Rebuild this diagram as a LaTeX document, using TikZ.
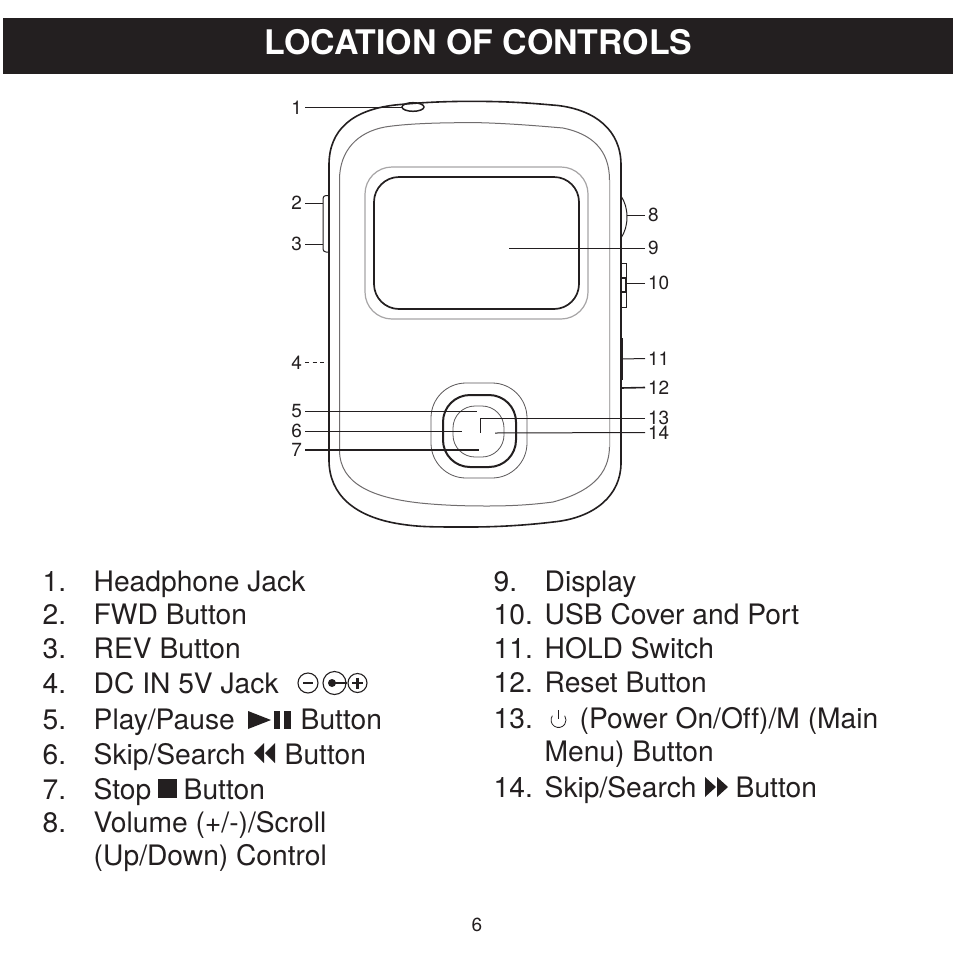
\documentclass[tikz,border=0pt]{standalone}
\usepackage{fontspec}
\setmainfont{TeX Gyre Heros}[Ligatures=NoCommon]
\definecolor{ink}{HTML}{231F20}
\tikzset{
  body/.style={draw=ink,line width=1.6pt,line join=round},
  inner/.style={draw=ink!65,line width=1pt},
  screenout/.style={draw=ink!40,line width=1.2pt},
  screenin/.style={draw=ink,line width=1.7pt},
  thin/.style={draw=ink!75,line width=.8pt},
  lead/.style={draw=ink,line width=1pt},
  leadb/.style={draw=ink,line width=2pt},
  lbl/.style={inner sep=0pt,outer sep=3pt,text=ink,font=\fontsize{19}{19}\selectfont},
  item/.style={anchor=base west,inner sep=0pt,xshift=-.5pt,yshift=.4pt,text=ink,font=\fontsize{28.2}{28.2}\selectfont},
  sym/.style={fill=ink,draw=none},
}
\begin{document}
\begin{tikzpicture}[x=1pt,y=-1pt]
\useasboundingbox[fill=white] (0,0) rectangle (954,954);
\fill[ink] (3,18) rectangle (953,74);
\node[anchor=base,inner sep=0pt,text=white,font=\fontsize{33.9}{33.9}\selectfont\bfseries] (title) at (478.5,54) {LOCATION OF CONTROLS};
% side controls (behind body)
\draw[lead,rounded corners=3pt] (329,195.5) -- (323,195.5) -- (323,252) -- (329,252);
\draw[lead] (621,196) .. controls (625,202) and (627,209) .. (627,217) .. controls (627,225) and (625,232) .. (621,238);
\draw[lead] (621,263) -- (626.5,263) -- (626.5,307) -- (621,307);
\draw[draw=ink,line width=1.7pt] (621,278) -- (626,278) -- (626,292) -- (621,292);
\draw[draw=ink,line width=2pt] (622,338) -- (622,380);
% body
\draw[body] (329,165) .. controls (329,130) and (352,110) .. (395,105)
  .. controls (430,101.5) and (460,101) .. (490,101.5)
  .. controls (520,102) and (540,104) .. (558,105.5)
  .. controls (595,110) and (621,130) .. (621,165)
  -- (621,463) .. controls (621,495) and (595,518) .. (553,522)
  .. controls (520,526) and (490,527) .. (470,527)
  .. controls (430,527) and (420,527) .. (400,524)
  .. controls (355,517) and (329,495) .. (329,460) -- cycle;
\draw[inner] (339.5,180) .. controls (339.5,150) and (358,132) .. (385,127)
  .. controls (410,123) and (450,122.5) .. (480,122.7)
  .. controls (510,123.5) and (540,126) .. (563,128)
  .. controls (592,134) and (609.5,150) .. (609.5,180)
  -- (609.5,447) .. controls (609,475) and (590,492) .. (553,502)
  .. controls (530,505) and (510,506) .. (487,506)
  .. controls (460,506) and (440,505) .. (420,503)
  .. controls (375,498) and (339.5,485) .. (339.5,450) -- cycle;
\draw[draw=ink!35,line width=1.3pt] (609.5,180) -- (609.5,447);
% screen
\draw[screenout,rounded corners=27pt] (365,167) rectangle (588,319);
\draw[screenin,rounded corners=25pt] (374,177) rectangle (579,309);
% d-pad
\draw[thin,rounded corners=35pt] (431,383) rectangle (527,478);
\draw[draw=ink,line width=2pt,rounded corners=27pt] (443,395) rectangle (516,467);
\draw[thin,rounded corners=22pt] (453,406) rectangle (504,457);
% jack
\draw[draw=ink,line width=1.5pt] (413,107) ellipse[x radius=11,y radius=4.3];
% end points
\coordinate (e1) at (402,107.5);
\coordinate (e2) at (323,203);
\coordinate (e3) at (323,244);
\coordinate (e4) at (329,362.5);
\coordinate (e5) at (477,411);
\coordinate (e6) at (462,431);
\coordinate (e7) at (479,450);
\coordinate (e8) at (627,215);
\coordinate (e9) at (509,248);
\coordinate (e10) at (626,283);
\coordinate (e11) at (622,359);
\coordinate (e12) at (621,388);
\coordinate (e13) at (480,433);
\coordinate (e14) at (495,433);
% labels
\node[lbl,anchor=east] (l1) at (305,107.5) {1};
\node[lbl,anchor=east] (l2) at (305,203) {2};
\node[lbl,anchor=east] (l3) at (305,244) {3};
\node[lbl,anchor=east] (l4) at (305,362.5) {4};
\node[lbl,anchor=east] (l5) at (305,411) {5};
\node[lbl,anchor=east] (l6) at (305,431) {6};
\node[lbl,anchor=east] (l7) at (305,450) {7};
\node[lbl,anchor=west] (l8) at (645,215) {8};
\node[lbl,anchor=west] (l9) at (645,248) {9};
\node[lbl,anchor=west] (l10) at (645,283) {10};
\node[lbl,anchor=west] (l11) at (645,358.5) {11};
\node[lbl,anchor=west] (l12) at (645,387.5) {12};
\node[lbl,anchor=west] (l13) at (645,418) {13};
\node[lbl,anchor=west] (l14) at (645,432.5) {14};
% leaders
\draw[leadb,line width=1.6pt] (l1.east) -- (e1);
\draw[lead] (l2.east) -- (e2);
\draw[lead] (l3.east) -- (e3);
\draw[lead,dash pattern=on 4pt off 3.5pt] (l4.east) -- (e4);
\draw[lead] (l5.east) -- (e5);
\draw[lead] (l6.east) -- (e6);
\draw[leadb] (l7.east) -- (e7);
\draw[lead] (l8.west) -- (e8);
\draw[lead] (l9.west) -- (e9);
\draw[lead] (l10.west) -- (e10);
\draw[lead] (l11.west) -- (e11);
\draw[leadb,line width=1.6pt] (l12.west) -- (e12);
\draw[lead] (l13.west) -| (e13);
\draw[lead] (l14.west) -- (e14);
% list, left
\node[item] (n1) at (43,592) {1.};  \node[item] (t1) at (94,592) {Headphone Jack};
\node[item] (n2) at (43,625) {2.};  \node[item] (t2) at (94,625) {FWD Button};
\node[item] (n3) at (43,659) {3.};  \node[item] (t3) at (94,659) {REV Button};
\node[item] (n4) at (43,694) {4.};  \node[item] (t4) at (94,694) {DC IN 5V Jack};
\node[item] (n5) at (43,730) {5.};  \node[item] (t5) at (94,730) {Play/Pause};
\node[item] (t5b) at (301,730) {Button};
\node[item] (n6) at (43,765) {6.};  \node[item] (t6) at (94,765) {Skip/Search};
\node[item] (t6b) at (285,765) {Button};
\node[item] (n7) at (43,800) {7.};  \node[item] (t7) at (94,800) {Stop};
\node[item] (t7b) at (184,800) {Button};
\node[item] (n8) at (43,833) {8.};  \node[item] (t8) at (94,833) {Volume (+/-)/Scroll};
\node[item] (t8b) at (94,866) {(Up/Down) Control};
% list, right
\node[item] (n9) at (494,592) {9.};  \node[item] (t9) at (545,592) {Display};
\node[item] (n10) at (494,625) {10.}; \node[item] (t10) at (545,625) {USB Cover and Port};
\node[item] (n11) at (494,659) {11.}; \node[item] (t11) at (545,659) {HOLD Switch};
\node[item] (n12) at (494,693) {12.}; \node[item] (t12) at (545,693) {Reset Button};
\node[item] (n13) at (494,729) {13.}; \node[item] (t13) at (580,729) {(Power On/Off)/M (Main};
\node[item] (t13b) at (545,762) {Menu) Button};
\node[item] (n14) at (494,798) {14.}; \node[item] (t14) at (545,798) {Skip/Search};
\node[item] (t14b) at (736,798) {Button};
\node[anchor=base,inner sep=0pt,text=ink,font=\fontsize{19}{19}\selectfont] (page) at (477,931) {6};
% symbols
\fill[sym] (248,711) -- (271,720) -- (248,729) -- cycle;
\fill[sym] (273.5,711) rectangle (280,729);
\fill[sym] (284,711) rectangle (291,729);
\fill[sym] (264,743) -- (254,753) -- (264,763) -- cycle;
\fill[sym] (275,743) -- (265,753) -- (275,763) -- cycle;
\fill[sym] (158,779) rectangle (177,798);
\fill[sym] (705,777) -- (716,787) -- (705,797) -- cycle;
\fill[sym] (717,777) -- (728,787) -- (717,797) -- cycle;
% DC jack symbol
\draw[draw=ink,line width=1.1pt] (308,683) circle[radius=10];
\draw[draw=ink,line width=1.1pt] (334.5,683) circle[radius=11.5];
\draw[draw=ink,line width=1.1pt] (357.5,683) circle[radius=9.5];
\draw[draw=ink,line width=2.6pt] (303,683) -- (313,683);
\draw[draw=ink,line width=2.6pt] (352,683) -- (363,683) (357.5,677.5) -- (357.5,688.5);
\fill[sym] (332,683) circle[radius=4];
\draw[draw=ink,line width=2pt] (332,683) -- (347,683);
% power symbol
\draw[draw=ink,line width=.8pt] (552.4,715.7) arc[start angle=215,end angle=-35,radius=7.5];
\draw[draw=ink,line width=.8pt] (558.5,710) -- (558.5,719);
\end{tikzpicture}
\end{document}
